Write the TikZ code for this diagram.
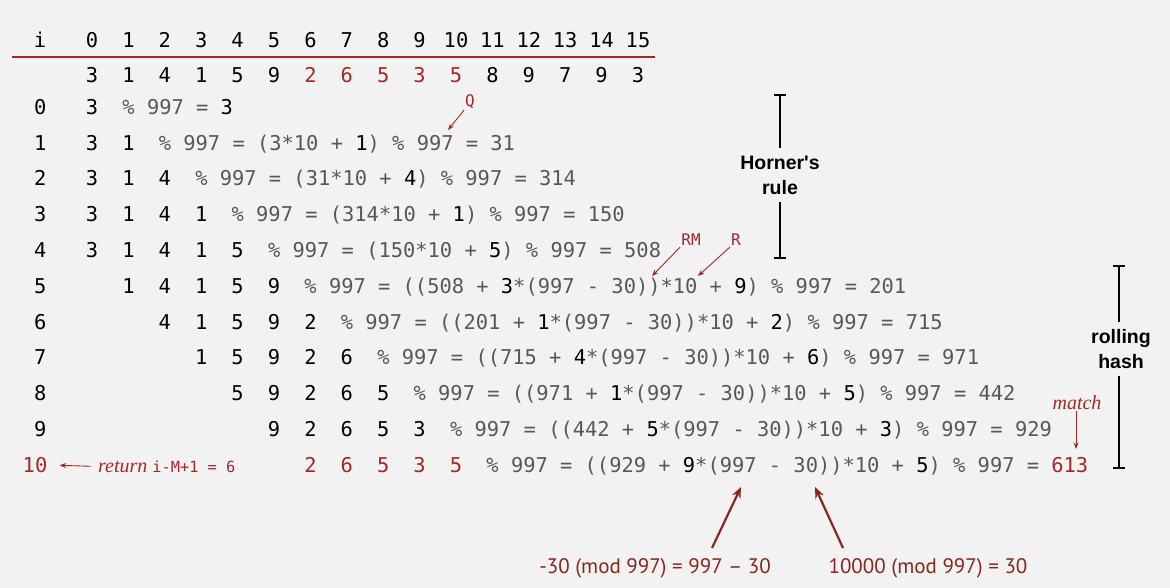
\documentclass[tikz,border=0pt]{standalone}
\usepackage{fontspec}
\setmonofont{DejaVu Sans Mono}
\newfontfamily\sidefont[Ligatures=TeXOff]{Liberation Sans}
\newfontfamily\notefont{Liberation Serif}
\newfontfamily\modfont{PT Sans}
\usetikzlibrary{arrows.meta}
\definecolor{paper}{RGB}{242,242,242}
\definecolor{hashred}{RGB}{166,40,38}
\definecolor{modred}{RGB}{138,38,30}
\definecolor{calcgray}{RGB}{88,88,88}
\newcommand{\bk}[1]{\textcolor{black}{#1}}
\newcommand{\hit}[1]{\textcolor{hashred}{#1}}
\def\pidigits{{3,1,4,1,5,9,2,6,5,3,5,8,9,7,9,3}}

\begin{document}
\begin{tikzpicture}[x=1pt,y=-1pt,
  digit/.style={anchor=base,inner sep=0pt,font=\ttfamily\fontsize{20.4}{24}\selectfont},
  rowlbl/.style={digit,anchor=base east},
  calc/.style={anchor=base west,inner sep=0pt,text=calcgray,font=\ttfamily\fontsize{20.4}{24}\selectfont},
  note/.style={inner sep=1pt,text=hashred,font=\ttfamily\fontsize{16}{18}\selectfont},
  pointer/.style={hashred,line width=0.9pt,-{Stealth[length=6.5pt,width=5pt]}},
  bigpointer/.style={modred,line width=2.2pt,-{Stealth[length=11pt,width=9pt]}},
  bracket/.style={black,line width=2.2pt},
  side/.style={align=center,inner sep=7pt,font=\sidefont\bfseries\fontsize{19.5}{25}\selectfont},
  modlbl/.style={inner sep=0pt,text=modred,font=\modfont\fontsize{21}{24}\selectfont}]
\fill[paper] (0,0) rectangle (1170,588);
\useasboundingbox (0,0) rectangle (1170,588);

\node[digit] (hi) at (40,47.3) {i};
\foreach \k in {0,...,15}
  \node[digit] (h\k) at (92+36.4*\k,47.3) {\k};
\draw[hashred,line width=1.3pt] (12,57) -- (655,57);
\foreach \k in {0,...,15} {
  \pgfmathtruncatemacro\d{\pidigits[\k]}
  \ifnum\k>5 \ifnum\k<11 \def\c{hashred}\else\def\c{black}\fi\else\def\c{black}\fi
  \node[digit,text=\c] (t\k) at (92+36.4*\k,82.3) {\d};
}

\foreach \r/\s in {0/0,1/0,2/0,3/0,4/0,5/1,6/2,7/3,8/4,9/5} {
  \node[rowlbl] (l\r) at (46.5,114.3+35.8*\r) {\r};
  \foreach \k in {\s,...,\r} {
    \pgfmathtruncatemacro\d{\pidigits[\k]}
    \node[digit] (d\r-\k) at (92+36.4*\k,114.3+35.8*\r) {\d};
  }
}
\node[rowlbl,text=hashred] (l10) at (47.5,472.3) {10};
\foreach \k in {6,...,10} {
  \pgfmathtruncatemacro\d{\pidigits[\k]}
  \node[digit,text=hashred] (d10-\k) at (92+36.4*\k,472.3) {\d};
}

\node[calc] (f0) at (122.25,114.3) {\% 997 = \bk{3}};
\node[calc] (f1) at (158.65,150.1) {\% 997 = (3*10 + \bk{1}) \% 997 = 31};
\node[calc] (f2) at (195.05,185.9) {\% 997 = (31*10 + \bk{4}) \% 997 = 314};
\node[calc] (f3) at (231.45,221.7) {\% 997 = (314*10 + \bk{1}) \% 997 = 150};
\node[calc] (f4) at (267.85,257.5) {\% 997 = (150*10 + \bk{5}) \% 997 = 508};
\node[calc] (f5) at (304.25,293.3) {\% 997 = ((508 + \bk{3}*(997 - 30))*10 + \bk{9}) \% 997 = 201};
\node[calc] (f6) at (340.65,329.1) {\% 997 = ((201 + \bk{1}*(997 - 30))*10 + \bk{2}) \% 997 = 715};
\node[calc] (f7) at (377.05,364.9) {\% 997 = ((715 + \bk{4}*(997 - 30))*10 + \bk{6}) \% 997 = 971};
\node[calc] (f8) at (413.45,400.7) {\% 997 = ((971 + \bk{1}*(997 - 30))*10 + \bk{5}) \% 997 = 442};
\node[calc] (f9) at (449.85,436.5) {\% 997 = ((442 + \bk{5}*(997 - 30))*10 + \bk{3}) \% 997 = 929};
\node[calc] (f10) at (486.25,472.3) {\% 997 = ((929 + \bk{9}*(997 - 30))*10 + \bk{5}) \% 997 = \hit{613}};

\node[anchor=base west,inner sep=0pt,text=hashred] (ret) at (98,472.3)
  {\notefont\itshape\fontsize{20}{24}\selectfont return \ttfamily\upshape\fontsize{15.3}{18}\selectfont i-M+1 = 6};
\draw[pointer] ([xshift=-7pt,yshift=6pt]ret.base west) -- ([xshift=12pt,yshift=7pt]l10.base east);

\node[note] (q) at (470,102) {Q};
\coordinate (qtip) at (448,130);
\draw[pointer] (q.south west) -- (qtip);
\node[note] (rm) at (691,240) {RM};
\coordinate (rmtip) at (652,276);
\draw[pointer] (rm.south west) -- (rmtip);
\node[note] (rr) at (736,240) {R};
\coordinate (rtip) at (698,276);
\draw[pointer] (rr.south west) -- (rtip);

\node[inner sep=1pt,text=hashred,font=\notefont\itshape\fontsize{20}{24}\selectfont] (match) at (1077,403) {match};
\coordinate (mtip) at (1076,449);
\draw[pointer] (match.south -| mtip) -- (mtip);

\coordinate (hTop) at (780,95);
\coordinate (hBot) at (780,258);
\node[side] (horner) at (780,175) {Horner's\\rule};
\draw[bracket] (hTop) -- (horner.north);
\draw[bracket] (horner.south) -- (hBot);
\draw[bracket] ([xshift=-6pt]hTop) -- ([xshift=6pt]hTop);
\draw[bracket] ([xshift=-6pt]hBot) -- ([xshift=6pt]hBot);

\coordinate (rTop) at (1119,266);
\coordinate (rBot) at (1119,468);
\node[side] (rolling) at (1121,349) {rolling\\hash};
\draw[bracket] (rTop) -- (rTop |- rolling.north);
\draw[bracket] (rBot |- rolling.south) -- (rBot);
\draw[bracket] ([xshift=-6pt]rTop) -- ([xshift=6pt]rTop);
\draw[bracket] ([xshift=-6pt]rBot) -- ([xshift=6pt]rBot);

\node[modlbl] (negmod) at (655,568) {-30 (mod 997) = 997 – 30};
\node[modlbl] (posmod) at (928,568) {10000 (mod 997) = 30};
\coordinate (negtail) at (712,548);
\coordinate (negtip) at (741,487);
\coordinate (postail) at (843,548);
\coordinate (postip) at (815,487);
\draw[bigpointer] (negtail) -- (negtip);
\draw[bigpointer] (postail) -- (postip);
\end{tikzpicture}
\end{document}
